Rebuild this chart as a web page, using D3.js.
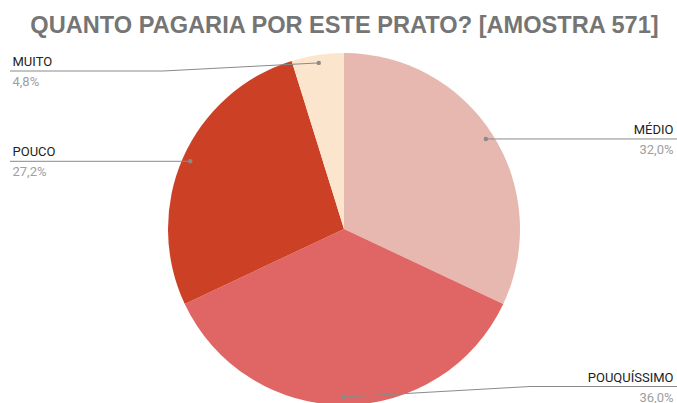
<!DOCTYPE html>
<html>
<head>
<meta charset="utf-8">
<script src="https://cdn.jsdelivr.net/npm/d3@7"></script>
<style>
  html, body { margin: 0; padding: 0; background: #fff; }
  svg { display: block; }
</style>
</head>
<body>
<svg id="chart" width="677" height="403"></svg>
<script>
const title = "QUANTO PAGARIA POR ESTE PRATO? [AMOSTRA 571]";
const categories = ["MÉDIO", "POUQUÍSSIMO", "POUCO", "MUITO"];
const values = [32.0, 36.0, 27.2, 4.8];
const colors = ["#e6b8af", "#e06666", "#cc4125", "#fce5cd"];

const W = 677, H = 403;
const cx = 344, cy = 229, R = 176;
const svg = d3.select("#chart");

svg.append("text")
  .attr("x", 344.5).attr("y", 32.5)
  .attr("text-anchor", "middle")
  .attr("font-family", "'Liberation Sans', Arial, sans-serif")
  .attr("font-weight", "bold")
  .attr("font-size", 23.6)
  .attr("fill", "#757575")
  .text(title);

const data = categories.map((c, i) => ({ name: c, value: values[i], color: colors[i] }));
const pie = d3.pie().value(d => d.value).sort(null);
const arcs = pie(data);
const arc = d3.arc().innerRadius(0).outerRadius(R);

const g = svg.append("g").attr("transform", `translate(${cx},${cy})`);
g.selectAll("path").data(arcs).join("path")
  .attr("d", arc)
  .attr("fill", d => d.data.color);

const fmt = v => v.toFixed(1).replace(".", ",") + "%";
const dotR = R - 8;
const lab = svg.append("g");
arcs.forEach(a => {
  const mid = (a.startAngle + a.endAngle) / 2;
  const dx = cx + Math.sin(mid) * dotR;
  const dy = cy - Math.cos(mid) * dotR;
  const right = mid <= Math.PI + 1e-6;
  const ly = Math.max(71, Math.min(386.5, dy));
  const xEnd = right ? 677 : 10;
  const xKnee = right ? Math.max(dx, 530) : Math.min(dx, 163);
  const pts = [[dx, dy], [xKnee, ly], [xEnd, ly]];
  lab.append("path")
    .attr("d", d3.line()(pts))
    .attr("fill", "none")
    .attr("stroke", "#8a8a8a")
    .attr("stroke-width", 1);
  lab.append("circle")
    .attr("cx", dx).attr("cy", dy).attr("r", 2.2)
    .attr("fill", "#8a8a8a");
  const tx = right ? 673.5 : 12.5;
  const anchor = right ? "end" : "start";
  lab.append("text")
    .attr("x", tx).attr("y", ly - 5)
    .attr("text-anchor", anchor)
    .attr("font-family", "Roboto, sans-serif")
    .attr("font-size", 13)
    .attr("fill", "#222")
    .text(a.data.name);
  lab.append("text")
    .attr("x", tx).attr("y", ly + 15)
    .attr("text-anchor", anchor)
    .attr("font-family", "Roboto, sans-serif")
    .attr("font-size", 13)
    .attr("fill", "#9e9e9e")
    .text(fmt(a.data.value));
});
</script>
</body>
</html>
